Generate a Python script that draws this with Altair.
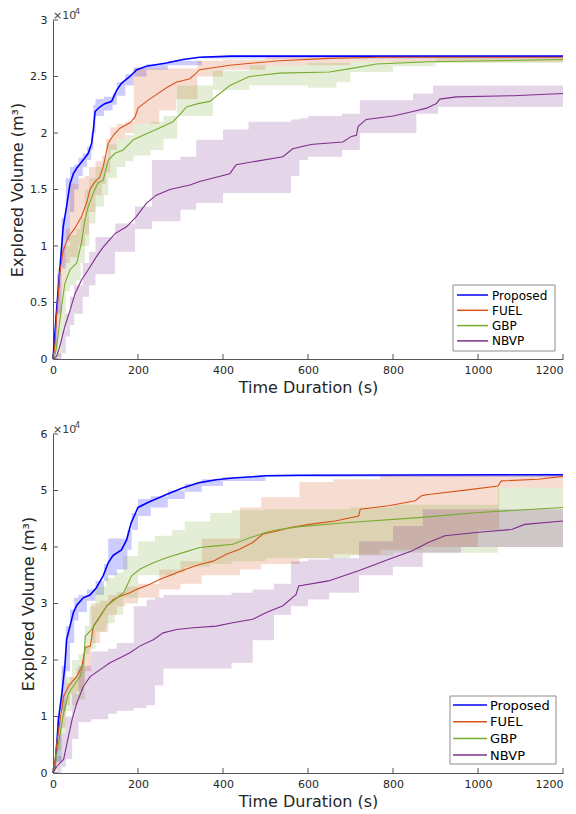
import altair as alt
import pandas as pd

SERIES = ["Proposed", "FUEL", "GBP", "NBVP"]
COLORS = ["#0000FF", "#D95319", "#77AC30", "#7E2F8E"]
X_TICKS = [0, 200, 400, 600, 800, 1000, 1200]

# ---------------- Top panel (values in units of 1e4 m^3) ----------------
top_prop_t = [0, 4, 9, 16, 24, 32, 40, 48, 56, 71, 83, 91, 95, 99, 110, 122, 138, 150, 161, 181, 197, 220, 267, 306, 345, 420, 550, 1200]
top_prop_v = [0, 0.2, 0.46, 0.79, 1.17, 1.35, 1.55, 1.64, 1.69, 1.76, 1.82, 1.91, 2.03, 2.19, 2.23, 2.26, 2.28, 2.38, 2.44, 2.50, 2.56, 2.59, 2.62, 2.65, 2.67, 2.68, 2.68, 2.68]
top_prop_bt = [0, 5, 10, 20, 30, 40, 50, 60, 70, 80, 90, 95, 100, 120, 140, 150, 170, 190, 220, 270, 350, 1200]
top_prop_lo = [0, 0.1, 0.4, 0.8, 1.05, 1.3, 1.5, 1.62, 1.7, 1.76, 1.85, 2.0, 2.15, 2.2, 2.25, 2.33, 2.42, 2.5, 2.56, 2.6, 2.66, 2.67]
top_prop_hi = [0, 0.4, 0.75, 1.25, 1.6, 1.7, 1.72, 1.78, 1.82, 1.88, 2.0, 2.25, 2.3, 2.32, 2.35, 2.45, 2.52, 2.58, 2.61, 2.64, 2.68, 2.69]

top_fuel_t = [0, 4, 8, 12, 16, 24, 36, 52, 67, 79, 87, 99, 110, 118, 130, 142, 157, 181, 193, 200, 220, 243, 267, 290, 322, 337, 345, 416, 533, 650, 768, 1200]
top_fuel_v = [0, 0.1, 0.35, 0.55, 0.76, 0.96, 1.08, 1.16, 1.26, 1.38, 1.5, 1.57, 1.61, 1.70, 1.91, 1.98, 2.04, 2.09, 2.14, 2.22, 2.28, 2.34, 2.40, 2.45, 2.48, 2.53, 2.56, 2.60, 2.64, 2.66, 2.67, 2.67]
top_fuel_bt = [0, 5, 10, 20, 30, 40, 60, 75, 85, 100, 115, 125, 135, 150, 170, 190, 250, 290, 340, 400, 500, 700, 1200]
top_fuel_lo = [0, 0.05, 0.3, 0.6, 0.85, 0.9, 1.0, 1.1, 1.3, 1.45, 1.55, 1.65, 1.85, 1.95, 2.0, 2.08, 2.2, 2.3, 2.5, 2.56, 2.6, 2.63, 2.64]
top_fuel_hi = [0, 0.3, 0.8, 1.0, 1.15, 1.55, 1.6, 1.62, 1.7, 1.75, 1.8, 1.95, 2.05, 2.08, 2.1, 2.57, 2.57, 2.57, 2.64, 2.65, 2.67, 2.68, 2.68]

top_gbp_t = [0, 4, 8, 12.5, 20, 28, 40, 56, 67, 75, 83, 95, 106, 118, 130, 146, 165, 189, 212, 243, 282, 298, 314, 341, 369, 416, 462, 533, 650, 700, 761, 887, 1200]
top_gbp_v = [0, 0.02, 0.1, 0.23, 0.46, 0.67, 0.79, 0.85, 1.03, 1.23, 1.35, 1.47, 1.56, 1.58, 1.76, 1.82, 1.85, 1.94, 1.98, 2.03, 2.10, 2.16, 2.23, 2.26, 2.28, 2.42, 2.50, 2.53, 2.54, 2.57, 2.61, 2.63, 2.65]
top_gbp_bt = [0, 10, 20, 30, 40, 55, 65, 75, 85, 100, 120, 130, 150, 170, 190, 230, 260, 292, 330, 376, 462, 600, 667, 700, 800, 900, 1200]
top_gbp_lo = [0, 0.02, 0.25, 0.6, 0.65, 0.7, 0.85, 1.0, 1.2, 1.35, 1.45, 1.6, 1.7, 1.75, 1.8, 1.85, 1.95, 2.15, 2.15, 2.38, 2.42, 2.40, 2.45, 2.54, 2.59, 2.62, 2.63]
top_gbp_hi = [0, 0.3, 0.6, 1.0, 1.1, 1.15, 1.25, 1.5, 1.6, 1.7, 1.75, 1.9, 1.95, 1.98, 2.08, 2.1, 2.15, 2.42, 2.42, 2.55, 2.6, 2.62, 2.62, 2.63, 2.64, 2.66, 2.66]

top_nbvp_t = [0, 8, 16, 28, 40, 52, 67, 83, 103, 118, 146, 173, 196, 220, 243, 275, 322, 345, 416, 431, 541, 564, 596, 612, 682, 702, 714, 718, 737, 800, 847, 879, 902, 910, 949, 1083, 1200]
top_nbvp_v = [0, 0.02, 0.11, 0.29, 0.43, 0.58, 0.70, 0.79, 0.91, 0.99, 1.11, 1.17, 1.26, 1.38, 1.45, 1.50, 1.54, 1.57, 1.64, 1.72, 1.79, 1.86, 1.89, 1.90, 1.92, 1.97, 1.98, 2.06, 2.12, 2.15, 2.19, 2.22, 2.26, 2.30, 2.32, 2.33, 2.35]
top_nbvp_bt = [0, 10, 20, 30, 40, 50, 70, 85, 100, 146, 193, 233, 300, 337, 400, 460, 560, 580, 600, 680, 722, 847, 855, 894, 906, 1200]
top_nbvp_lo = [0, 0, 0.05, 0.2, 0.3, 0.4, 0.55, 0.65, 0.75, 0.95, 1.15, 1.22, 1.32, 1.38, 1.47, 1.47, 1.62, 1.76, 1.79, 1.85, 2.0, 2.0, 2.17, 2.17, 2.23, 2.23]
top_nbvp_hi = [0, 0.05, 0.25, 0.4, 0.55, 0.65, 0.85, 0.95, 1.08, 1.2, 1.35, 1.76, 1.79, 1.94, 2.03, 2.1, 2.12, 2.13, 2.15, 2.17, 2.29, 2.35, 2.35, 2.42, 2.42, 2.42]

# ---------------- Bottom panel (values in units of 1e4 m^3) ----------------
bot_prop_t = [0, 5, 13, 21, 28, 32, 40, 48, 56, 71, 87, 102, 118, 130, 141, 161, 173, 184, 200, 227, 267, 306, 345, 384, 423, 502, 580, 1200]
bot_prop_v = [0, 0.12, 0.95, 1.42, 1.9, 2.36, 2.6, 2.84, 2.97, 3.1, 3.15, 3.28, 3.49, 3.72, 3.85, 3.95, 4.12, 4.43, 4.70, 4.80, 4.93, 5.05, 5.14, 5.19, 5.22, 5.26, 5.27, 5.28]
bot_prop_bt = [0, 10, 20, 30, 40, 50, 60, 80, 100, 120, 130, 150, 175, 185, 200, 230, 270, 310, 350, 400, 500, 1200]
bot_prop_lo = [0, 0.2, 1.1, 1.8, 2.3, 2.7, 2.85, 3.05, 3.15, 3.4, 3.5, 3.6, 3.95, 4.3, 4.55, 4.7, 4.85, 4.98, 5.08, 5.17, 5.24, 5.26]
bot_prop_hi = [0, 1.0, 1.9, 2.6, 2.9, 3.1, 3.15, 3.25, 3.4, 3.7, 4.15, 4.15, 4.3, 4.6, 4.85, 4.9, 5.0, 5.12, 5.2, 5.24, 5.28, 5.29]

bot_fuel_t = [0, 5, 10, 17, 25, 37, 56, 68, 76, 88, 95, 111, 127, 142, 158, 181, 197, 228, 252, 283, 314, 345, 377, 408, 439, 470, 494, 525, 556, 602, 664, 719, 723, 789, 852, 868, 883, 985, 1047, 1055, 1141, 1200]
bot_fuel_v = [0, 0.24, 0.6, 0.95, 1.36, 1.54, 1.71, 1.89, 2.22, 2.25, 2.60, 2.78, 2.96, 3.07, 3.13, 3.19, 3.25, 3.34, 3.43, 3.52, 3.61, 3.69, 3.75, 3.87, 3.96, 4.08, 4.23, 4.28, 4.34, 4.40, 4.46, 4.55, 4.67, 4.73, 4.82, 4.91, 4.93, 5.02, 5.08, 5.17, 5.20, 5.25]
bot_fuel_bt = [0, 5, 10, 20, 30, 40, 55, 70, 75, 90, 110, 130, 150, 170, 200, 250, 300, 350, 440, 490, 580, 660, 770, 870, 1000, 1050, 1200]
bot_fuel_lo = [0, 0.05, 0.4, 0.8, 1.2, 1.4, 1.45, 1.6, 1.8, 2.3, 2.5, 2.8, 2.95, 3.0, 3.1, 3.25, 3.35, 3.5, 3.6, 3.7, 3.8, 3.87, 3.95, 4.0, 4.3, 5.05, 5.05]
bot_fuel_hi = [0, 0.5, 0.9, 1.4, 1.6, 1.7, 1.85, 2.1, 2.25, 3.0, 3.05, 3.15, 3.2, 3.3, 3.35, 3.6, 3.75, 4.15, 4.7, 4.88, 5.15, 5.2, 5.26, 5.28, 5.29, 5.29, 5.29]

bot_gbp_t = [0, 5, 9, 17, 25, 37, 48, 64, 72, 76, 91, 107, 127, 146, 166, 185, 205, 236, 267, 306, 345, 384, 423, 455, 478, 502, 525, 580, 688, 860, 1001, 1200]
bot_gbp_v = [0, 0.1, 0.35, 0.71, 1.06, 1.42, 1.54, 1.71, 1.95, 2.42, 2.54, 2.72, 2.96, 3.07, 3.19, 3.49, 3.61, 3.72, 3.81, 3.90, 3.99, 4.02, 4.05, 4.14, 4.20, 4.26, 4.30, 4.36, 4.43, 4.52, 4.61, 4.70]
bot_gbp_bt = [0, 10, 20, 30, 45, 60, 75, 85, 100, 125, 145, 165, 200, 240, 280, 310, 370, 420, 500, 600, 700, 800, 1047, 1200]
bot_gbp_lo = [0, 0.2, 0.7, 1.1, 1.2, 1.3, 2.1, 2.2, 2.5, 2.65, 2.8, 3.1, 3.5, 3.5, 3.55, 3.65, 3.7, 3.75, 3.8, 3.8, 3.85, 3.9, 4.0, 4.0]
bot_gbp_hi = [0, 0.7, 1.3, 1.7, 2.0, 2.1, 2.6, 2.95, 3.3, 3.45, 3.55, 3.84, 4.1, 4.2, 4.3, 4.45, 4.6, 4.65, 4.67, 4.67, 4.7, 4.75, 5.05, 5.05]

bot_nbvp_t = [0, 9, 25, 33, 45, 56, 72, 88, 111, 134, 158, 181, 205, 236, 259, 291, 330, 384, 423, 470, 502, 541, 572, 578, 648, 719, 789, 844, 883, 922, 1001, 1079, 1110, 1200]
bot_nbvp_v = [0, 0.12, 0.24, 0.53, 0.95, 1.24, 1.54, 1.71, 1.83, 1.95, 2.04, 2.13, 2.25, 2.36, 2.48, 2.54, 2.57, 2.60, 2.66, 2.72, 2.84, 2.96, 3.16, 3.31, 3.40, 3.58, 3.78, 3.93, 4.08, 4.20, 4.26, 4.31, 4.40, 4.46]
bot_nbvp_bt = [0, 10, 20, 30, 45, 60, 90, 130, 150, 190, 220, 240, 260, 420, 470, 520, 560, 600, 650, 720, 800, 870, 960, 1200]
bot_nbvp_lo = [0, 0, 0.1, 0.25, 0.6, 0.9, 0.95, 1.05, 1.1, 1.15, 1.2, 1.55, 1.85, 1.95, 2.35, 2.8, 2.95, 3.07, 3.19, 3.5, 3.65, 3.9, 4.0, 4.05]
bot_nbvp_hi = [0, 0.3, 0.7, 1.0, 1.4, 1.9, 2.15, 2.2, 2.3, 2.95, 3.07, 3.1, 3.15, 3.19, 3.25, 3.35, 3.75, 3.78, 3.8, 4.1, 4.37, 4.67, 4.67, 4.67]

TOP = {
    "Proposed": (top_prop_t, top_prop_v, top_prop_bt, top_prop_lo, top_prop_hi),
    "FUEL": (top_fuel_t, top_fuel_v, top_fuel_bt, top_fuel_lo, top_fuel_hi),
    "GBP": (top_gbp_t, top_gbp_v, top_gbp_bt, top_gbp_lo, top_gbp_hi),
    "NBVP": (top_nbvp_t, top_nbvp_v, top_nbvp_bt, top_nbvp_lo, top_nbvp_hi),
}
BOT = {
    "Proposed": (bot_prop_t, bot_prop_v, bot_prop_bt, bot_prop_lo, bot_prop_hi),
    "FUEL": (bot_fuel_t, bot_fuel_v, bot_fuel_bt, bot_fuel_lo, bot_fuel_hi),
    "GBP": (bot_gbp_t, bot_gbp_v, bot_gbp_bt, bot_gbp_lo, bot_gbp_hi),
    "NBVP": (bot_nbvp_t, bot_nbvp_v, bot_nbvp_bt, bot_nbvp_lo, bot_nbvp_hi),
}

W, H = 510, 339
FONT = "DejaVu Sans"
AXC = "#555555"


def panel(data, ymax, ystep, leg):
    lines = []
    for order, s in enumerate(SERIES):
        t, v, bt, lo, hi = data[s]
        for a, b in zip(t, v):
            lines.append({"series": s, "o": order, "t": a, "v": b})
    ldf = pd.DataFrame(lines)
    yvals = [round(i * ystep, 2) for i in range(int(round(ymax / ystep)) + 1)]

    xs = alt.Scale(domain=[0, 1200], nice=False, zero=False)
    ys = alt.Scale(domain=[0, ymax], nice=False)
    xaxis = alt.Axis(values=X_TICKS, format="d", title="Time Duration (s)", grid=False,
                     tickSize=0, labelPadding=5, titlePadding=4,
                     labelAlign=alt.expr("datum.value >= 1200 ? 'right' : 'center'"))
    yaxis = alt.Axis(values=yvals, format="~g", title="Explored Volume (m³)",
                     grid=False, tickSize=0, labelPadding=6, titlePadding=4)

    layers = []
    for i, s in enumerate(SERIES):
        t, v, bt, lo, hi = data[s]
        bdf = pd.DataFrame({"t": bt, "lo": lo, "hi": hi})
        enc = dict(y2="hi:Q")
        if i == 0:
            enc["x"] = alt.X("t:Q", scale=xs, axis=xaxis)
            enc["y"] = alt.Y("lo:Q", scale=ys, axis=yaxis)
        else:
            enc["x"] = alt.X("t:Q", scale=xs)
            enc["y"] = alt.Y("lo:Q", scale=ys)
        layers.append(alt.Chart(bdf).mark_area(interpolate="step-after", opacity=0.2,
                                               color=COLORS[i]).encode(**enc))

    line = alt.Chart(ldf).mark_line().encode(
        x=alt.X("t:Q", scale=xs),
        y=alt.Y("v:Q", scale=ys),
        stroke=alt.Stroke("series:N", scale=alt.Scale(domain=SERIES, range=COLORS), legend=None),
        strokeWidth=alt.condition(alt.datum.series == "Proposed", alt.value(1.6), alt.value(1.1)),
        order="t:Q",
    )
    layers.append(line)

    xt = pd.DataFrame({"t": X_TICKS})
    layers.append(alt.Chart(xt).mark_rule(color=AXC, strokeWidth=1).encode(
        x=alt.X("t:Q", scale=xs), y=alt.value(H), y2=alt.value(H - 5)))
    yt = pd.DataFrame({"v": yvals})
    layers.append(alt.Chart(yt).mark_rule(color=AXC, strokeWidth=1).encode(
        y=alt.Y("v:Q", scale=ys), x=alt.value(0), x2=alt.value(5)))

    one = pd.DataFrame({"a": [0]})
    layers.append(alt.Chart(one).mark_text(align="left", baseline="alphabetic", font=FONT,
                                           fontSize=11, color="#404040").encode(
        x=alt.value(0), y=alt.value(-1), text=alt.value("×10")))
    layers.append(alt.Chart(one).mark_text(align="left", baseline="alphabetic", font=FONT,
                                           fontSize=8, color="#404040").encode(
        x=alt.value(22), y=alt.value(-6), text=alt.value("4")))

    # legend box (drawn as marks)
    bx0, bx1, by0, by1, ry0, rstep, lx0, lx1, tx, fs = leg
    layers.append(alt.Chart(one).mark_rect(fill="#ffffff", stroke="#8c8c8c", strokeWidth=1).encode(
        x=alt.value(bx0), x2=alt.value(bx1), y=alt.value(by0), y2=alt.value(by1)))
    for i, s in enumerate(SERIES):
        yy = ry0 + i * rstep
        layers.append(alt.Chart(one).mark_rule(color=COLORS[i], strokeWidth=1.5).encode(
            x=alt.value(lx0), x2=alt.value(lx1), y=alt.value(yy)))
        layers.append(alt.Chart(one).mark_text(align="left", baseline="middle", font=FONT,
                                               fontSize=fs, color="#000000").encode(
            x=alt.value(tx), y=alt.value(yy + 0.5), text=alt.value(s)))
    return alt.layer(*layers).properties(width=W, height=H)


# legend geometry: box x0, x1, y0, y1, first row y, row step, line x0, x1, text x, font size
top = panel(TOP, 3, 0.5, (400, 502, 265, 331, 275, 15.3, 404, 435, 439, 12))
bot = panel(BOT, 6, 1, (397, 503, 262, 330, 271, 16.7, 400, 434, 437, 13))

chart = alt.vconcat(top, bot, spacing=27).resolve_scale(
    stroke="independent", y="independent"
).properties(
    padding={"left": 1, "top": 0, "right": 0, "bottom": 0}
).configure_view(stroke=None).configure_axis(
    labelFont=FONT, titleFont=FONT, labelFontSize=11, titleFontSize=16,
    labelColor="#262626", titleColor="#262626", titleFontWeight="normal",
    domainColor=AXC, domainWidth=1,
)

chart.save("out.html", embed_options={"renderer": "svg", "actions": False})
